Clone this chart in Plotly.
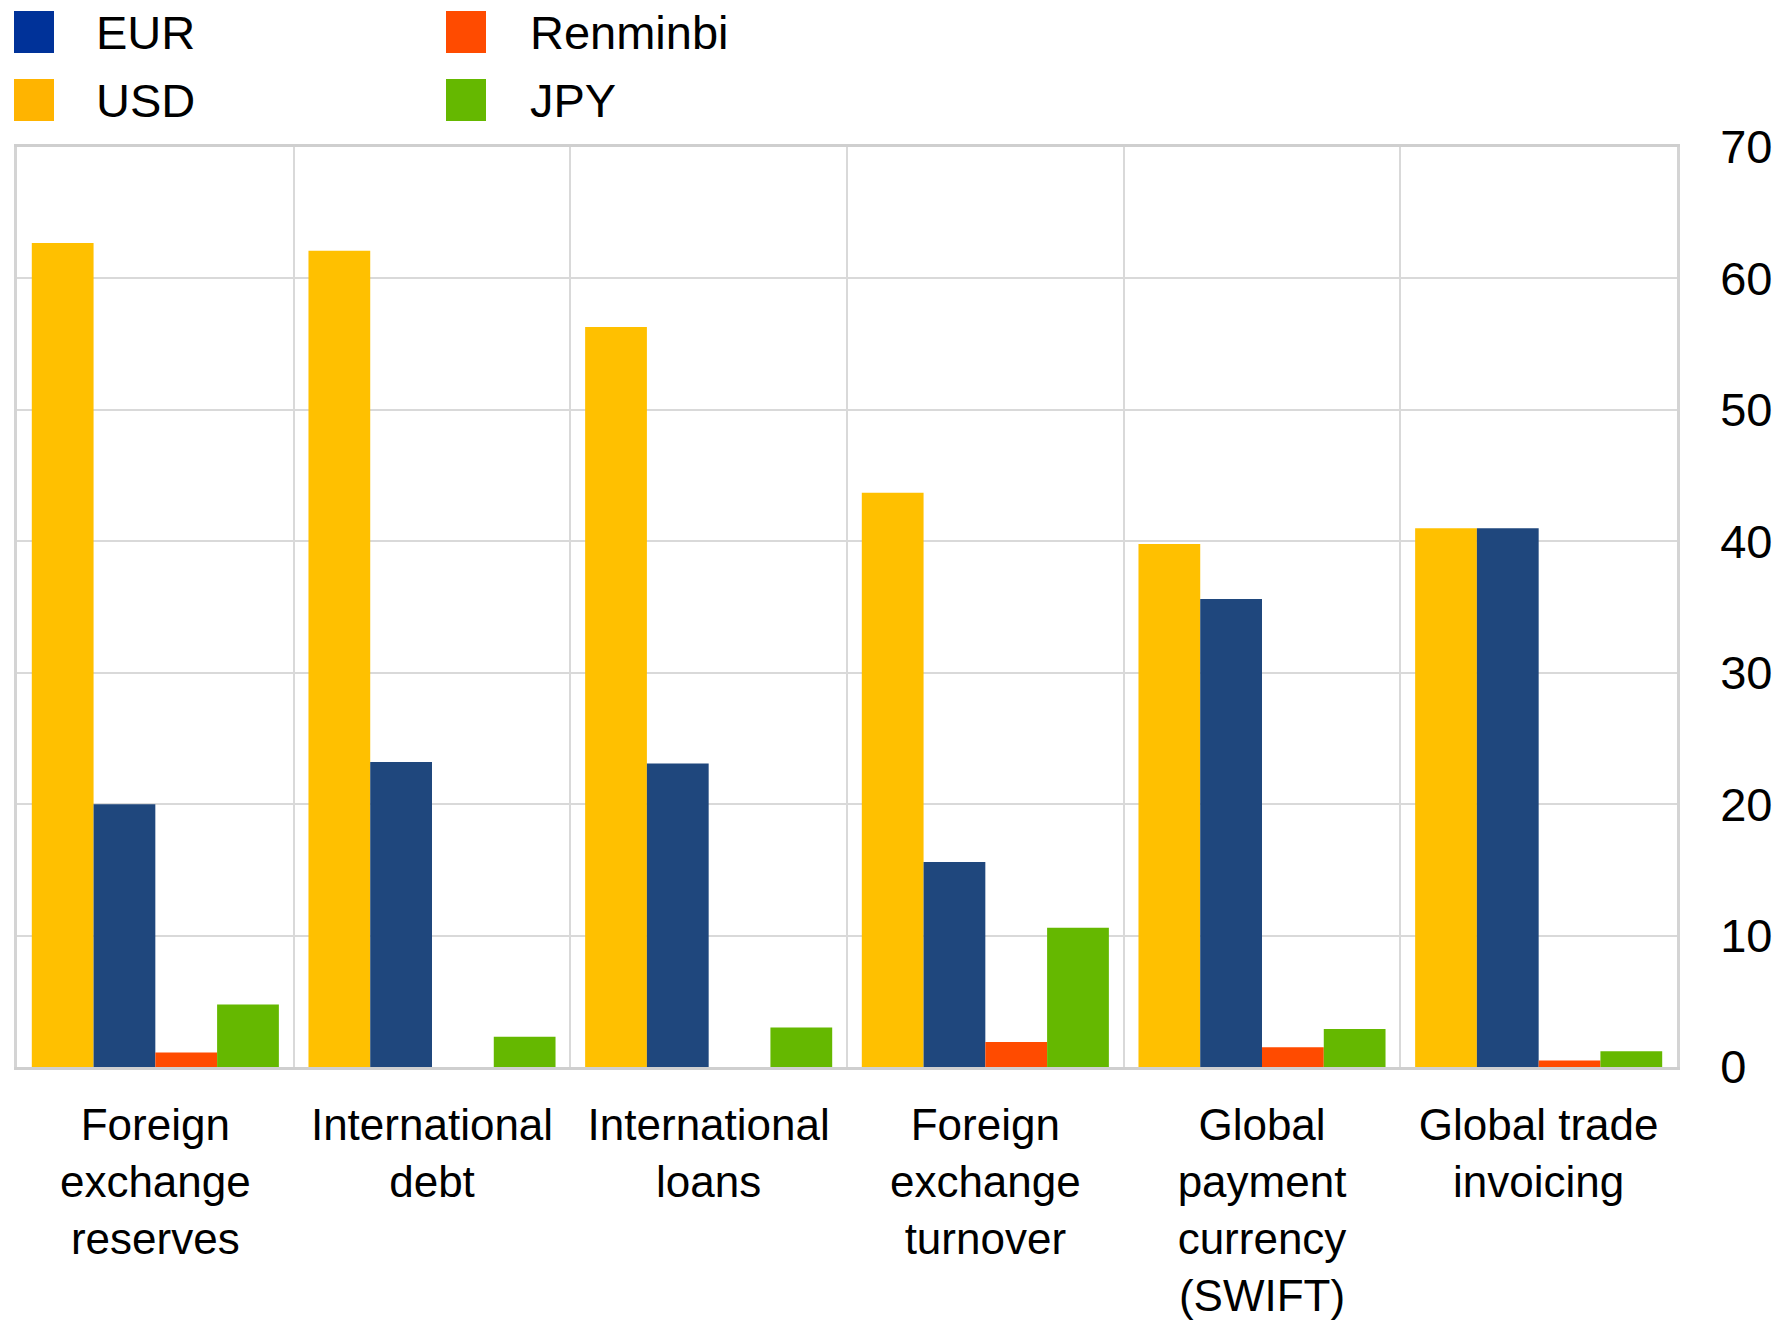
import plotly.graph_objects as go

categories = [
    "Foreign<br>exchange<br>reserves",
    "International<br>debt",
    "International<br>loans",
    "Foreign<br>exchange<br>turnover",
    "Global<br>payment<br>currency<br>(SWIFT)",
    "Global trade<br>invoicing",
]
usd = [62.7, 62.1, 56.3, 43.7, 39.8, 41.0]
eur = [20.0, 23.2, 23.1, 15.6, 35.6, 41.0]
rmb = [1.1, 0.0, 0.0, 1.9, 1.5, 0.5]
jpy = [4.75, 2.3, 3.0, 10.6, 2.9, 1.2]
y_ticks = [0, 10, 20, 30, 40, 50, 60, 70]

legend_items = [("EUR", "#003299"), ("USD", "#FFB400"), ("Renminbi", "#FF4B00"), ("JPY", "#65B800")]

W, H = 1779, 1321
L, R, T, B = 17, 102, 147, 254
FONT = "Liberation Sans, Arial, sans-serif"
FS = 47

fig = go.Figure()
series = [("USD", usd, "#FFC000"), ("EUR", eur, "#1F477D"), ("Renminbi", rmb, "#FF4B00"), ("JPY", jpy, "#65B800")]
for name, vals, col in series:
    fig.add_trace(go.Bar(x=list(range(len(categories))), y=vals, name=name, marker=dict(color=col, line=dict(width=0)),
                         showlegend=False))

pw = W - L - R
ph = H - T - B
def px2paper(x, y):
    return (x - L) / pw, (H - B - y) / ph

shapes = []
annotations = []
cols_x = [(14, 94), (446, 528)]
rows_y = [32, 100]
for i, (name, col) in enumerate(legend_items):
    c, r = divmod(i, 2)
    sx, tx = cols_x[c]
    cy = rows_y[r]
    x0, y0 = px2paper(sx, cy - 21)
    x1, y1 = px2paper(sx + 40, cy + 21)
    shapes.append(dict(type="rect", xref="paper", yref="paper", x0=x0, x1=x1, y0=y1, y1=y0,
                       fillcolor=col, line=dict(width=0)))
    ax, ay = px2paper(tx, cy)
    annotations.append(dict(text=name, xref="paper", yref="paper", x=ax, y=ay, xanchor="left", yanchor="middle",
                            showarrow=False, font=dict(family=FONT, size=FS, color="#000000")))

n = len(categories)
fig.update_layout(
    width=W, height=H,
    margin=dict(l=L, r=R, t=T, b=B, pad=0),
    paper_bgcolor="white", plot_bgcolor="white",
    barmode="group", bargap=0.107, bargroupgap=0,
    font=dict(family=FONT, size=FS, color="#000000"),
    shapes=shapes, annotations=annotations,
    xaxis=dict(
        tickmode="array", tickvals=list(range(n)), ticktext=categories,
        range=[-0.5, n - 0.5], showgrid=False, automargin=False,
        minor=dict(tickvals=[i - 0.5 for i in range(n + 1)], showgrid=True, gridcolor="#d9d9d9", gridwidth=2, ticks=""),
        showline=True, linecolor="#cfcfcf", linewidth=3, mirror=True,
        ticks="", tickfont=dict(size=44), zeroline=False, ticklabelstandoff=17,
    ),
    yaxis=dict(
        side="right", range=[0, 70], tickvals=y_ticks, showgrid=True, gridcolor="#d9d9d9", gridwidth=2,
        showline=True, mirror=True, linecolor="#d4d4d4", linewidth=2.5, automargin=False,
        zeroline=False, ticks="", ticklabelstandoff=31, tickfont=dict(size=FS),
    ),
)
fig.write_html("out.html")
